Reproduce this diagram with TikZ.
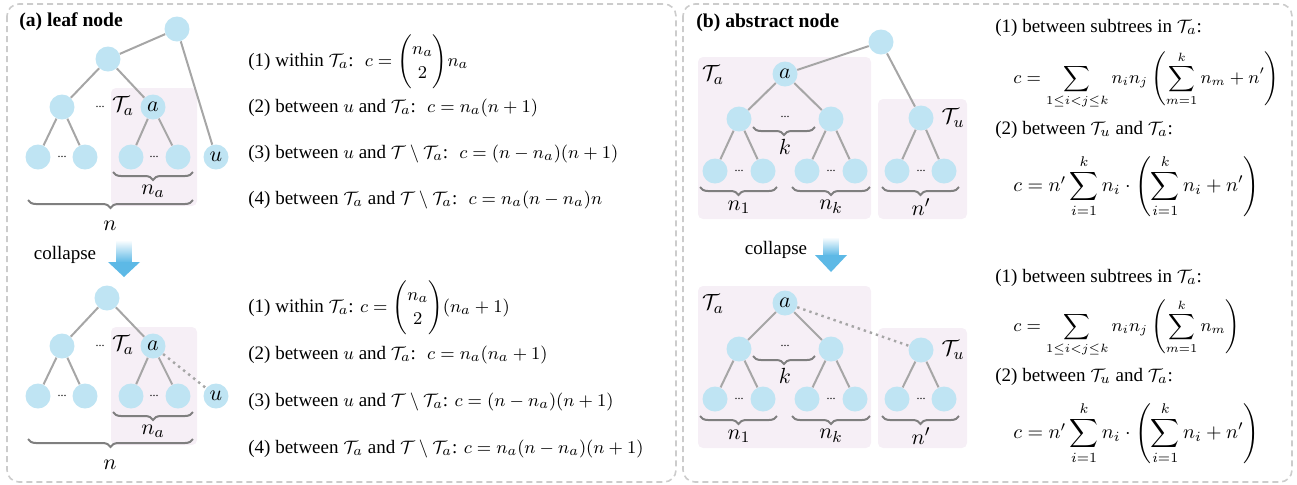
\documentclass[tikz,border=0pt]{standalone}
\usepackage{amsmath}
\usepackage{fontspec}
\setmainfont{Liberation Serif}
\usetikzlibrary{decorations.pathreplacing}
\definecolor{nodeblue}{HTML}{BFE4F3}
\definecolor{edgegray}{HTML}{A6A6A6}
\definecolor{pinkbg}{HTML}{F6EFF6}
\definecolor{bracegray}{HTML}{7F7F7F}
\definecolor{panelgray}{HTML}{CCCCCC}
\definecolor{arrowblue}{HTML}{5DB9E6}
\begin{document}
\begin{tikzpicture}[x=0.5pt,y=-0.5pt,
  every node/.style={font=\fontsize{9.5}{11}\selectfont},
  tnode/.style={circle, fill=nodeblue, minimum size=12.5pt, inner sep=0pt, font=\fontsize{11}{11}\selectfont},
  edge/.style={draw=edgegray, line width=1pt},
  dotedge/.style={draw=edgegray, line width=1.2pt, dotted},
  region/.style={fill=pinkbg, rounded corners=2.5pt},
  brc/.style={decorate, decoration={brace, mirror, amplitude=4pt}, draw=bracegray, line width=1pt},
  panel/.style={draw=panelgray, line width=0.8pt, rounded corners=6pt, dash pattern=on 3pt off 2pt},
  dots/.style={font=\fontsize{6}{6}\selectfont, inner sep=0pt},
  lbl/.style={font=\fontsize{11}{11}\selectfont, inner sep=0pt},
  formula/.style={anchor=west, inner sep=0pt},
  eqone/.style={anchor=west, inner sep=0pt, font=\fontsize{9.2}{11}\selectfont},
  eqtwo/.style={anchor=west, inner sep=0pt, font=\fontsize{9.6}{11}\selectfont},
  ttl/.style={anchor=west, inner sep=0pt, font=\fontsize{9.8}{11}\selectfont\bfseries}
]
\useasboundingbox (0,0) rectangle (1297,484);
% panels
\draw[panel] (7,4) rectangle (676,482);
\draw[panel] (683,4) rectangle (1292,482);
\node[ttl] (ta) at (19,22) {(a) leaf node};
\node[ttl] (tb) at (696,23) {(b) abstract node};

% ===== (a) top tree =====
\fill[region] (111,88) rectangle (197,206);
\node[tnode] (A1r) at (177,29) {};
\node[tnode] (A1b) at (108,59) {};
\node[tnode] (A1c) at (62,107) {};
\node[tnode] (A1a) at (153,107) {$a$};
\node[tnode] (A1l1) at (38,157) {};
\node[tnode] (A1l2) at (85,157) {};
\node[tnode] (A1l3) at (131,157) {};
\node[tnode] (A1l4) at (178,157) {};
\node[tnode] (A1u) at (216,157) {$u$};
\draw[edge] (A1r) -- (A1b);
\draw[edge] (A1r) -- (A1u);
\draw[edge] (A1b) -- (A1c);
\draw[edge] (A1b) -- (A1a);
\draw[edge] (A1c) -- (A1l1);
\draw[edge] (A1c) -- (A1l2);
\draw[edge] (A1a) -- (A1l3);
\draw[edge] (A1a) -- (A1l4);
\node[dots] (A1d1) at (62,157) {...};
\node[dots] (A1d2) at (154,157) {...};
\node[dots] (A1d3) at (100,107) {...};
\node[lbl] (A1T) at (123,106) {$\mathcal{T}_a$};
\draw[brc] (113,172) -- (193,172);
\node[lbl] (A1na) at (153,191) {$n_a$};
\draw[brc] (28,200) -- (193,200);
\node[lbl] (A1n) at (110,226) {$n$};

% formulas top-left
\node[formula] (F1) at (248,62) {(1) within $\mathcal{T}_a$: \ $c=\dbinom{n_a}{2}n_a$};
\node[formula] (F2) at (248,108) {(2) between $u$ and $\mathcal{T}_a$: \ $c=n_a(n+1)$};
\node[formula] (F3) at (248,154) {(3) between $u$ and $\mathcal{T}\setminus\mathcal{T}_a$: \ $c=(n-n_a)(n+1)$};
\node[formula] (F4) at (248,200) {(4) between $\mathcal{T}_a$ and $\mathcal{T}\setminus\mathcal{T}_a$: \ $c=n_a(n-n_a)n$};

% collapse arrow left
\shade[top color=white, bottom color=arrowblue] (116.5,240) rectangle (131.5,262.5);
\fill[arrowblue] (108,262) -- (140,262) -- (124,277) -- cycle;
\node (C1) at (65,255) {collapse};

% ===== (a) bottom tree =====
\fill[region] (111,327) rectangle (197,445);
\node[tnode] (A2r) at (107,298) {};
\node[tnode] (A2c) at (62,346) {};
\node[tnode] (A2a) at (153,346) {$a$};
\node[tnode] (A2l1) at (38,396) {};
\node[tnode] (A2l2) at (85,396) {};
\node[tnode] (A2l3) at (131,396) {};
\node[tnode] (A2l4) at (178,396) {};
\node[tnode] (A2u) at (216,396) {$u$};
\draw[edge] (A2r) -- (A2c);
\draw[edge] (A2r) -- (A2a);
\draw[edge] (A2c) -- (A2l1);
\draw[edge] (A2c) -- (A2l2);
\draw[edge] (A2a) -- (A2l3);
\draw[edge] (A2a) -- (A2l4);
\draw[dotedge] (A2a) -- (A2u);
\node[dots] (A2d1) at (62,396) {...};
\node[dots] (A2d2) at (154,396) {...};
\node[dots] (A2d3) at (100,346) {...};
\node[lbl] (A2T) at (123,345) {$\mathcal{T}_a$};
\draw[brc] (113,412) -- (193,412);
\node[lbl] (A2na) at (153,431) {$n_a$};
\draw[brc] (28,439) -- (193,439);
\node[lbl] (A2n) at (110,465) {$n$};

% formulas bottom-left
\node[formula] (G1) at (248,308) {(1) within $\mathcal{T}_a$: $c=\dbinom{n_a}{2}(n_a+1)$};
\node[formula] (G2) at (248,355) {(2) between $u$ and $\mathcal{T}_a$: \ $c=n_a(n_a+1)$};
\node[formula] (G3) at (248,402) {(3) between $u$ and $\mathcal{T}\setminus\mathcal{T}_a$: $c=(n-n_a)(n+1)$};
\node[formula] (G4) at (248,449) {(4) between $\mathcal{T}_a$ and $\mathcal{T}\setminus\mathcal{T}_a$: $c=n_a(n-n_a)(n+1)$};

% ===== (b) top tree =====
\fill[region] (698,57) rectangle (871,219);
\fill[region] (878,99) rectangle (967,219);
\node[tnode] (B1r) at (881,42) {};
\node[tnode] (B1a) at (785,74) {$a$};
\node[tnode] (B1c1) at (739,119) {};
\node[tnode] (B1c2) at (831,119) {};
\node[tnode] (B1l1) at (715,171) {};
\node[tnode] (B1l2) at (763,171) {};
\node[tnode] (B1l3) at (807,171) {};
\node[tnode] (B1l4) at (855,171) {};
\node[tnode] (B1u) at (921,118) {};
\node[tnode] (B1u1) at (897,171) {};
\node[tnode] (B1u2) at (944,171) {};
\draw[edge] (B1r) -- (B1a);
\draw[edge] (B1r) -- (B1u);
\draw[edge] (B1a) -- (B1c1);
\draw[edge] (B1a) -- (B1c2);
\draw[edge] (B1c1) -- (B1l1);
\draw[edge] (B1c1) -- (B1l2);
\draw[edge] (B1c2) -- (B1l3);
\draw[edge] (B1c2) -- (B1l4);
\draw[edge] (B1u) -- (B1u1);
\draw[edge] (B1u) -- (B1u2);
\node[lbl] (B1Ta) at (713,75) {$\mathcal{T}_a$};
\node[lbl] (B1Tu) at (953,118) {$\mathcal{T}_u$};
\node[dots] (B1d0) at (785,117) {...};
\node[dots] (B1d1) at (739,171) {...};
\node[dots] (B1d2) at (831,171) {...};
\node[dots] (B1d3) at (921,171) {...};
\draw[brc] (753,127) -- (815,127);
\node[lbl] (B1k) at (785,147) {$k$};
\draw[brc] (700,187) -- (777,187);
\node[lbl] (B1n1) at (739,207) {$n_1$};
\draw[brc] (792,187) -- (870,187);
\node[lbl] (B1nk) at (831,207) {$n_k$};
\draw[brc] (882,187) -- (959,187);
\node[lbl] (B1np) at (921,207) {$n'$};

% formulas top-right
\node[formula] (H1) at (995,28) {(1) between subtrees in $\mathcal{T}_a$:};
\node[eqone] (H1e) at (1013,80) {$c=\displaystyle\sum_{1\le i<j\le k} n_in_j\left(\sum_{m=1}^{k} n_m+n'\right)$};
\node[formula] (H2) at (995,130) {(2) between $\mathcal{T}_u$ and $\mathcal{T}_a$:};
\node[eqtwo] (H2e) at (1013,186) {$c=n'\displaystyle\sum_{i=1}^{k} n_i\cdot\left(\sum_{i=1}^{k} n_i+n'\right)$};

% collapse arrow right
\shade[top color=white, bottom color=arrowblue] (823.5,237) rectangle (838.5,255.5);
\fill[arrowblue] (815,255) -- (847,255) -- (831,272) -- cycle;
\node (C2) at (776,250) {collapse};

% ===== (b) bottom tree =====
\fill[region] (698,286) rectangle (871,448);
\fill[region] (878,328) rectangle (967,448);
\node[tnode] (B2a) at (785,303) {$a$};
\node[tnode] (B2c1) at (739,349) {};
\node[tnode] (B2c2) at (831,349) {};
\node[tnode] (B2l1) at (715,399) {};
\node[tnode] (B2l2) at (763,399) {};
\node[tnode] (B2l3) at (807,399) {};
\node[tnode] (B2l4) at (855,399) {};
\node[tnode] (B2u) at (921,350) {};
\node[tnode] (B2u1) at (897,399) {};
\node[tnode] (B2u2) at (944,399) {};
\draw[edge] (B2a) -- (B2c1);
\draw[edge] (B2a) -- (B2c2);
\draw[edge] (B2c1) -- (B2l1);
\draw[edge] (B2c1) -- (B2l2);
\draw[edge] (B2c2) -- (B2l3);
\draw[edge] (B2c2) -- (B2l4);
\draw[edge] (B2u) -- (B2u1);
\draw[edge] (B2u) -- (B2u2);
\draw[dotedge] (B2a) -- (B2u);
\node[lbl] (B2Ta) at (713,304) {$\mathcal{T}_a$};
\node[lbl] (B2Tu) at (953,350) {$\mathcal{T}_u$};
\node[dots] (B2d0) at (785,346) {...};
\node[dots] (B2d1) at (739,399) {...};
\node[dots] (B2d2) at (831,399) {...};
\node[dots] (B2d3) at (921,399) {...};
\draw[brc] (753,356) -- (815,356);
\node[lbl] (B2k) at (785,376) {$k$};
\draw[brc] (700,416) -- (777,416);
\node[lbl] (B2n1) at (739,436) {$n_1$};
\draw[brc] (792,416) -- (870,416);
\node[lbl] (B2nk) at (831,436) {$n_k$};
\draw[brc] (882,416) -- (959,416);
\node[lbl] (B2np) at (921,436) {$n'$};

% formulas bottom-right
\node[formula] (K1) at (995,278) {(1) between subtrees in $\mathcal{T}_a$:};
\node[eqone] (K1e) at (1013,328) {$c=\displaystyle\sum_{1\le i<j\le k} n_in_j\left(\sum_{m=1}^{k} n_m\right)$};
\node[formula] (K2) at (995,377) {(2) between $\mathcal{T}_u$ and $\mathcal{T}_a$:};
\node[eqtwo] (K2e) at (1013,433) {$c=n'\displaystyle\sum_{i=1}^{k} n_i\cdot\left(\sum_{i=1}^{k} n_i+n'\right)$};
\end{tikzpicture}
\end{document}
